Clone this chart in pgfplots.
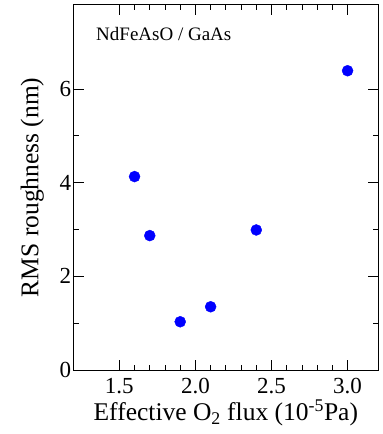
\documentclass[border=0pt]{standalone}
\usepackage{fontspec}
\setmainfont{Liberation Serif}
\usepackage{pgfplots}
\pgfplotsset{compat=1.18}
\begin{document}
\begin{tikzpicture}
\begin{axis}[
  scale only axis,
  width=304.3pt, height=365.3pt,
  xmin=1.2, xmax=3.2, ymin=0, ymax=7.8,
  xtick={1.5,2.0,2.5,3.0},
  xticklabels={\rmfamily 1.5,\rmfamily 2.0,\rmfamily 2.5,\rmfamily 3.0},
  ytick={0,2,4,6},
  yticklabels={\rmfamily 0,\rmfamily 2,\rmfamily 4,\rmfamily 6},
  minor x tick num=4,
  minor y tick num=1,
  tick align=inside,
  xtick pos=both, ytick pos=both,
  major tick length=10pt, minor tick length=5pt,
  axis line style={line width=1pt},
  every tick/.style={black, line width=0.8pt},
  /pgf/number format/assume math mode=true,
  tick label style={font=\rmfamily\fontsize{23}{26}\selectfont},
  yticklabel style={xshift=1pt},
  xticklabel style={yshift=-5pt},
  label style={font=\rmfamily\fontsize{25.5}{28}\selectfont},
  xlabel={Effective O\textsubscript{2} flux (10\textsuperscript{-5}Pa)},
  ylabel={RMS roughness (nm)},
  xlabel style={yshift=1pt},
  ylabel style={yshift=9pt},
]
\addplot[only marks, mark=*, mark size=5.5pt, color={rgb,255:red,0;green,0;blue,255}] coordinates {
  (1.6,4.13) (1.7,2.87) (1.9,1.03) (2.1,1.35) (2.4,2.99) (3.0,6.39)
};
\node[anchor=base west, font=\rmfamily\fontsize{19}{22}\selectfont] at (rel axis cs:0.0624,0.901) {NdFeAsO / GaAs};
\end{axis}
\pgfresetboundingbox
\path (-73.7pt,-64pt) rectangle (309.3pt,370pt);
\end{tikzpicture}
\end{document}
